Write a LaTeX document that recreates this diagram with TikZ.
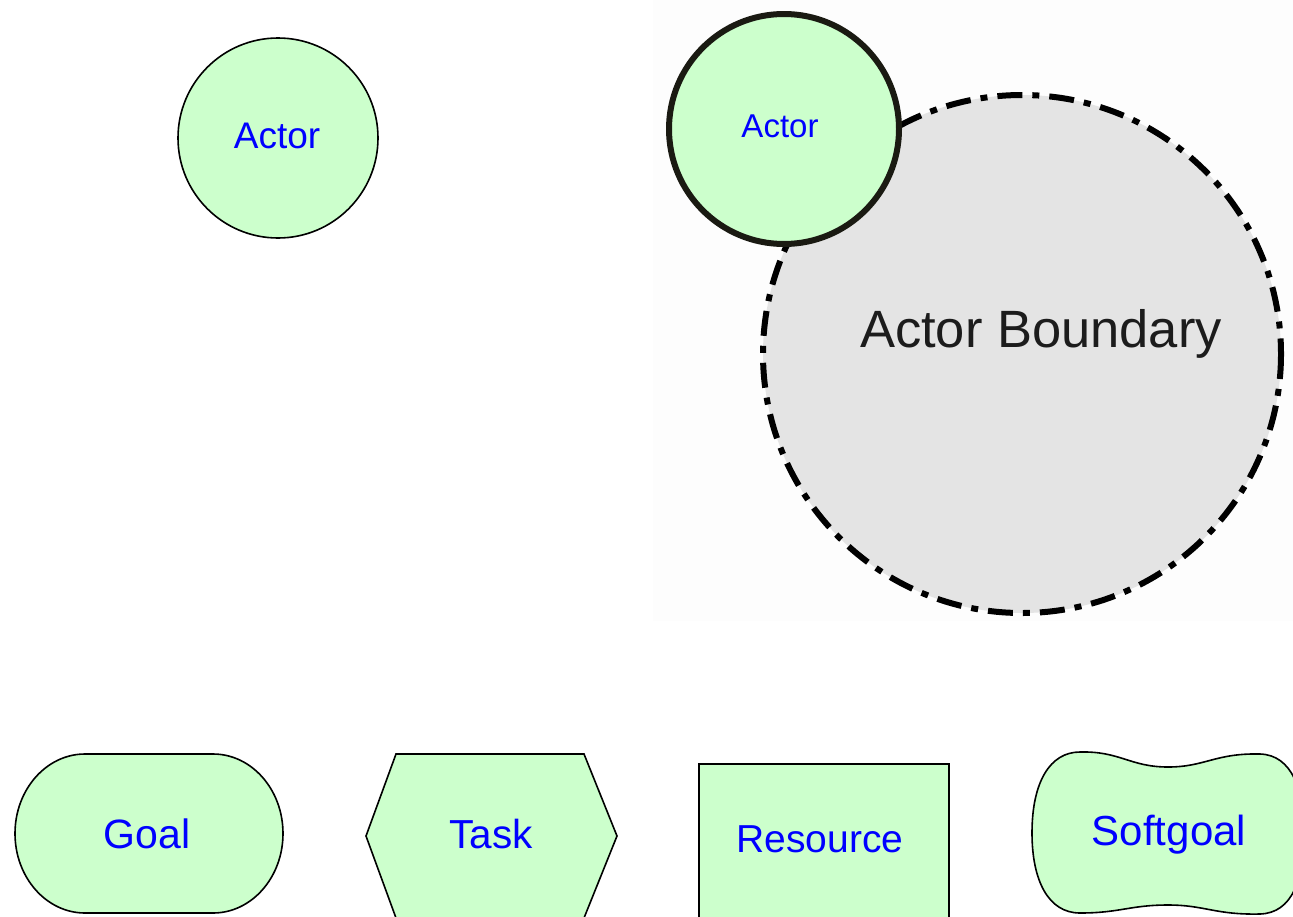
\documentclass[tikz,border=0pt]{standalone}
\usepackage{fontspec}
\setmainfont{Liberation Sans}
\definecolor{elemfill}{HTML}{CCFFCC}
\definecolor{elemtext}{HTML}{0000FF}
\definecolor{boundfill}{HTML}{E4E4E4}
\definecolor{panel}{HTML}{FDFDFD}
\definecolor{darkline}{HTML}{1A1A12}
\definecolor{boundtext}{HTML}{1C1C1C}
\newcommand{\fs}[1]{\fontsize{#1}{#1}\selectfont}
\tikzset{
  element/.style={fill=elemfill, draw=black, line width=1.6pt},
  label/.style={text=elemtext, anchor=base, inner sep=0pt},
}
\begin{document}
\begin{tikzpicture}[x=1pt, y=-1pt]
\useasboundingbox (0,0) rectangle (1293,916);
\clip (0,0) rectangle (1293,916);
\fill[white] (0,0) rectangle (1293,916);
% light panel behind the boundary example
\fill[panel] (653,0) rectangle (1293,621);

% plain actor
\path[element] (278,138) circle[radius=100];
\node[label, font=\fs{37}] (actorA) at (277,148) {Actor};

% actor with its boundary
\path[fill=boundfill, draw=black, line width=6pt,
      dash pattern=on 25pt off 10pt on 7pt off 10pt] (1022,354) circle[radius=259];
\path[fill=elemfill, draw=darkline, line width=6pt] (784,129) circle[radius=115];
\node[label, font=\fs{33}] (actorB) at (780,137) {Actor};
\node[anchor=base, inner sep=0pt, text=boundtext, font=\fs{52.5}] (boundary) at (1041,347) {Actor Boundary};

% goal: flat top and bottom with half-elliptic ends
\path[element] (85,754) -- (213,754)
  arc[start angle=-90, end angle=90, x radius=70, y radius=79.5]
  -- (85,913)
  arc[start angle=90, end angle=270, x radius=70, y radius=79.5] -- cycle;
\node[label, font=\fs{41}] (goal) at (147,848) {Goal};

% task
\path[element] (396,754) -- (584,754) -- (617,836) -- (584,918) -- (396,918) -- (366,836) -- cycle;
\node[label, font=\fs{40.5}] (task) at (491,848) {Task};

% resource
\path[element] (699,764) rectangle (949,930);
\node[label, font=\fs{39}] (resource) at (820,852) {Resource};

% softgoal
\path[element] (1032,833)
  .. controls (1032,782) and (1050,752) .. (1080,752)
  .. controls (1120,751) and (1130,767) .. (1168,767)
  .. controls (1205,767) and (1215,753) .. (1260,754)
  .. controls (1292,755) and (1304,790) .. (1304,833)
  .. controls (1304,880) and (1292,913) .. (1260,914)
  .. controls (1215,915) and (1205,905) .. (1168,905)
  .. controls (1130,905) and (1120,913) .. (1080,913)
  .. controls (1048,913) and (1032,880) .. (1032,833) -- cycle;
\node[label, font=\fs{42}] (softgoal) at (1169,845) {Softgoal};
\end{tikzpicture}
\end{document}
